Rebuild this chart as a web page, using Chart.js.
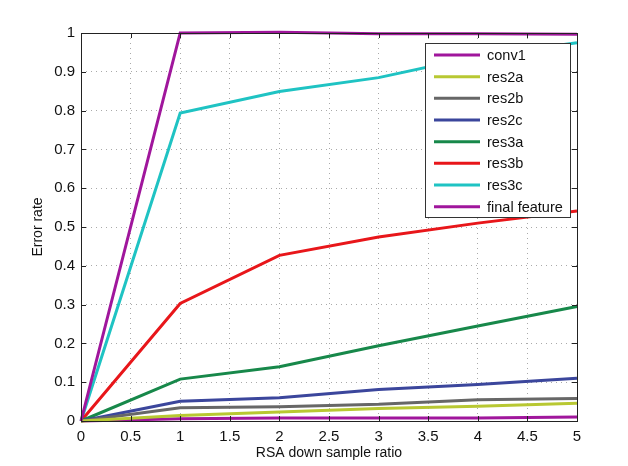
<!DOCTYPE html>
<html>
<head>
<meta charset="utf-8">
<script src="https://cdn.jsdelivr.net/npm/chart.js@4.4.0/dist/chart.umd.min.js"></script>
<style>
  html, body { margin: 0; padding: 0; background: #fff; }
  #wrap { width: 628px; height: 466px; }
</style>
</head>
<body>
<div id="wrap"><canvas id="chart" width="628" height="466"></canvas></div>
<script>
const ratios = [0, 1, 2, 3, 4, 5];

const conv1 = [0, 1.0, 1.002, 0.998, 0.998, 0.997];
const res2a = [0, 0.014, 0.023, 0.032, 0.038, 0.046];
const res2b = [0, 0.034, 0.037, 0.043, 0.055, 0.058];
const res2c = [0, 0.051, 0.060, 0.081, 0.094, 0.110];
const res3a = [0, 0.108, 0.140, 0.194, 0.245, 0.295];
const res3b = [0, 0.303, 0.427, 0.474, 0.510, 0.541];
const res3c = [0, 0.794, 0.849, 0.885, 0.940, 0.975];
const finalFeature = [0, 0.006, 0.008, 0.008, 0.008, 0.010];

const seriesNames = ["conv1", "res2a", "res2b", "res2c", "res3a", "res3b", "res3c", "final feature"];
const seriesValues = [conv1, res2a, res2b, res2c, res3a, res3b, res3c, finalFeature];
const seriesColors = ["#a0169c", "#b8c832", "#676767", "#3b469c", "#17884a", "#e8161a", "#1fc3c3", "#a0169c"];

const font = "'Liberation Sans', Arial, sans-serif";

const datasets = seriesNames.map((name, i) => ({
  label: name,
  data: ratios.map((r, j) => ({ x: r, y: seriesValues[i][j] })),
  borderColor: seriesColors[i],
  backgroundColor: seriesColors[i],
  borderWidth: 3,
  pointRadius: 0,
  tension: 0,
  clip: false
}));

// tick labels like "0", "0.5", "1"
function plainTick(value) {
  return String(Math.round(value * 10) / 10);
}

// box around plot, inward ticks and the legend inside the plot
const frame = {
  id: "frame",
  afterDraw(chart) {
    const ctx = chart.ctx;
    const a = chart.chartArea;
    const xs = chart.scales.x;
    const ys = chart.scales.y;
    ctx.save();
    ctx.strokeStyle = "#222";
    ctx.lineWidth = 1;
    ctx.strokeRect(a.left + 0.5, a.top + 0.5, a.right - a.left, a.bottom - a.top);
    ctx.beginPath();
    xs.ticks.forEach(t => {
      const px = Math.round(xs.getPixelForValue(t.value)) + 0.5;
      ctx.moveTo(px, a.bottom); ctx.lineTo(px, a.bottom - 5);
      ctx.moveTo(px, a.top); ctx.lineTo(px, a.top + 5);
    });
    ys.ticks.forEach(t => {
      const py = Math.round(ys.getPixelForValue(t.value)) + 0.5;
      ctx.moveTo(a.left, py); ctx.lineTo(a.left + 5, py);
      ctx.moveTo(a.right, py); ctx.lineTo(a.right - 5, py);
    });
    ctx.stroke();

    // legend
    const bx = 425, by = 43, bw = 145, bh = 174;
    ctx.fillStyle = "#fff";
    ctx.fillRect(bx, by, bw, bh);
    ctx.strokeStyle = "#333";
    ctx.strokeRect(bx + 0.5, by + 0.5, bw, bh);
    ctx.font = "14.5px " + font;
    ctx.textBaseline = "middle";
    chart.data.datasets.forEach((ds, i) => {
      const y = 55 + i * 21.67;
      ctx.strokeStyle = ds.borderColor;
      ctx.lineWidth = 3;
      ctx.beginPath();
      ctx.moveTo(434, y); ctx.lineTo(480, y);
      ctx.stroke();
      ctx.fillStyle = "#111";
      ctx.fillText(ds.label, 487, y + 1);
    });
    ctx.restore();
  }
};

new Chart(document.getElementById("chart"), {
  type: "line",
  data: { datasets: datasets },
  options: {
    responsive: false,
    animation: false,
    layout: { padding: { top: 33, right: 51, left: 30, bottom: 0 } },
    plugins: { legend: { display: false }, tooltip: { enabled: false } },
    scales: {
      x: {
        type: "linear",
        min: 0,
        max: 5,
        ticks: { stepSize: 0.5, color: "#111", font: { family: font, size: 15 }, padding: 7, maxRotation: 0, callback: plainTick },
        grid: { color: "#aaa", drawTicks: false },
        border: { display: false, dash: [1, 4] },
        title: { display: true, text: "RSA down sample ratio", color: "#111", font: { family: font, size: 14 }, padding: { top: 0, bottom: 4 } },
        afterFit(scale) { scale.height = 45; }
      },
      y: {
        min: 0,
        max: 1,
        ticks: { stepSize: 0.1, color: "#111", font: { family: font, size: 15 }, padding: 6, callback: plainTick },
        grid: { color: "#aaa", drawTicks: false },
        border: { display: false, dash: [1, 4] },
        title: { display: true, text: "Error rate", color: "#111", font: { family: font, size: 14 }, padding: { top: 0, bottom: 0 } },
        afterFit(scale) { scale.width = 51; }
      }
    }
  },
  plugins: [frame]
});
</script>
</body>
</html>
